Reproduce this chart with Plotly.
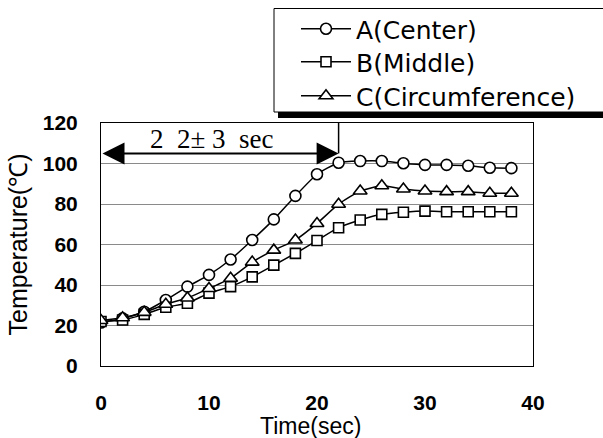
import plotly.graph_objects as go

time_sec = [0, 2, 4, 6, 8, 10, 12, 14, 16, 18, 20, 22, 24, 26, 28, 30, 32, 34, 36, 38]
temp_a = [21.5, 23.5, 26.8, 32.6, 39.2, 45.0, 52.6, 62.2, 72.4, 84.0, 94.7, 100.4, 101.2, 101.2, 100.1, 99.3, 99.3, 98.9, 97.9, 97.7]
temp_b = [22.0, 22.7, 25.5, 29.0, 31.0, 36.0, 39.2, 44.0, 49.8, 55.6, 62.0, 68.3, 72.1, 74.9, 75.9, 76.5, 76.2, 76.2, 76.2, 76.2]
temp_c = [22.5, 23.8, 26.5, 30.5, 33.6, 38.3, 43.3, 51.3, 57.2, 62.2, 70.4, 79.9, 86.4, 89.0, 87.4, 86.4, 86.1, 86.1, 85.3, 85.3]
series_names = ["A(Center)", "B(Middle)", "C(Circumference)"]
x_ticks = [0, 10, 20, 30, 40]
y_ticks = [0, 20, 40, 60, 80, 100, 120]
interval_end = 22
interval_label = "2\u20022± 3\u2002sec"
x_title = "Time(sec)"
y_title = "Temperature(℃)"

W, H = 603, 438
ML, MR, MT, MB = 101, 70, 123, 72
PW, PH = W - ML - MR, H - MT - MB

def px_x(p):
    return (p - ML) / PW

def px_y(p):
    return (H - MB - p) / PH

fig = go.Figure()
symbols = ["circle", "square", "triangle-up"]
sizes = [11, 10, 12]
legend_ids = ["legend", "legend2", "legend3"]
legend_rows = [29, 62, 96]
for name, vals, sym, sz, lg in zip(series_names, [temp_a, temp_b, temp_c], symbols, sizes, legend_ids):
    fig.add_trace(go.Scatter(
        x=time_sec, y=vals, name=name, mode="lines+markers", legend=lg,
        line=dict(color="black", width=1.5, shape="spline", smoothing=0.5),
        marker=dict(symbol=sym, size=sz, color="white", line=dict(color="black", width=1.6)),
    ))

# legend box with shadow (extends past the right edge)
fig.add_shape(type="rect", xref="paper", yref="paper",
              x0=px_x(278), x1=px_x(640), y0=px_y(118), y1=px_y(12),
              fillcolor="black", line=dict(width=0), layer="above")
fig.add_shape(type="rect", xref="paper", yref="paper",
              x0=px_x(274), x1=px_x(640), y0=px_y(112), y1=px_y(8.5),
              fillcolor="white", line=dict(color="black", width=1), layer="above")

# interval arrow
fig.add_annotation(x=interval_end, y=105, ax=0, ay=105, xref="x", yref="y", axref="x", ayref="y",
                   text="", showarrow=True, arrowhead=2, arrowside="end+start",
                   arrowsize=2.2, arrowwidth=2, arrowcolor="black")
fig.add_shape(type="line", xref="x", yref="y", x0=interval_end, x1=interval_end, y0=105, y1=120,
              line=dict(color="black", width=1.5))
fig.add_annotation(x=10.3, y=112.0, xref="x", yref="y", text=interval_label, showarrow=False,
                   font=dict(family="Liberation Serif", size=27, color="black"))

# x axis title
fig.add_annotation(x=px_x(310), y=px_y(426), xref="paper", yref="paper", text=x_title,
                   showarrow=False, xanchor="center", yanchor="middle",
                   font=dict(family="Liberation Sans", size=23, color="black"))

legend_common = dict(xanchor="left", yanchor="middle", bgcolor="rgba(0,0,0,0)", borderwidth=0,
                     font=dict(family="DejaVu Sans", size=25, color="black"), itemwidth=50)
layout_legends = {}
for lg, row in zip(legend_ids, legend_rows):
    layout_legends[lg] = dict(x=px_x(296), y=px_y(row), **legend_common)

fig.update_layout(
    width=W, height=H,
    margin=dict(l=ML, r=MR, t=MT, b=MB, autoexpand=False),
    paper_bgcolor="white", plot_bgcolor="white",
    font=dict(family="Liberation Sans", color="black"),
    showlegend=True,
    **layout_legends,
)
fig.update_xaxes(range=[0, 40], tickvals=x_ticks, showgrid=False, zeroline=False,
                 showline=True, linecolor="black", linewidth=1, mirror=True,
                 ticks="", ticklabelstandoff=18,
                 tickfont=dict(size=21, family="Liberation Sans", weight="bold"))
fig.update_yaxes(range=[0, 120], tickvals=y_ticks, showgrid=True, gridcolor="#8a8a8a", gridwidth=1,
                 zeroline=False, showline=True, linecolor="black", linewidth=1, mirror=True,
                 ticks="", ticklabelstandoff=18,
                 tickfont=dict(size=21, family="Liberation Sans", weight="bold"),
                 title=dict(text=y_title, font=dict(size=25), standoff=8))

fig.write_html("out.html", config={"displayModeBar": False},
               post_script="document.body.style.margin='0px';")
